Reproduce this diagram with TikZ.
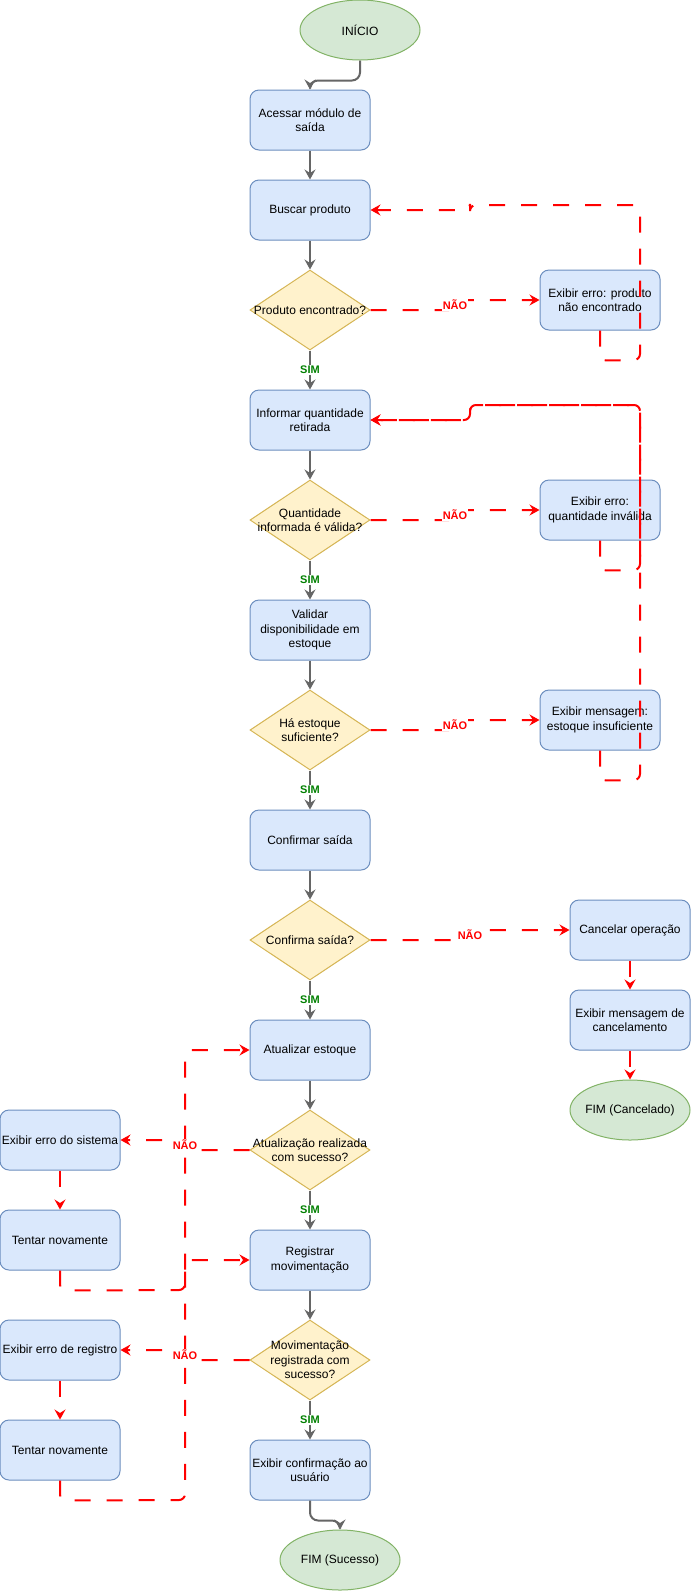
\documentclass[tikz,border=0pt]{standalone}
\usepackage{fontspec}
\setmainfont{Liberation Sans}
\usetikzlibrary{arrows.meta,shapes.geometric}
\definecolor{bfill}{HTML}{DAE8FC}
\definecolor{bdraw}{HTML}{6C8EBF}
\definecolor{yfill}{HTML}{FFF2CC}
\definecolor{ydraw}{HTML}{D6B656}
\definecolor{gfill}{HTML}{D5E8D4}
\definecolor{gdraw}{HTML}{82B366}
\definecolor{garrow}{HTML}{666666}
\definecolor{redzero}{HTML}{FF0000}
\definecolor{greenzero}{HTML}{008000}
\begin{document}
\begin{tikzpicture}[x=1pt,y=-1pt,
  font=\fontsize{12}{14.5}\selectfont,
  procbox/.style={draw=bdraw, fill=bfill, line width=1pt, rounded corners=9pt,
    minimum width=120pt, minimum height=60pt, inner sep=1pt, align=center},
  decbox/.style={draw=ydraw, fill=yfill, line width=1pt, diamond,
    minimum width=120pt, minimum height=80pt, inner sep=0pt},
  termbox/.style={draw=gdraw, fill=gfill, line width=1pt, ellipse,
    minimum width=120pt, minimum height=60pt, inner sep=0pt},
  txt/.style={align=center, inner sep=0pt},
  flow/.style={draw=garrow, line width=2pt, rounded corners=8pt,
    -{Stealth[length=10pt,width=11pt,inset=3.5pt]}},
  fail/.style={draw=redzero, line width=2pt, dash pattern=on 16pt off 16pt,
    rounded corners=6pt, -{Stealth[length=10pt,width=11pt,inset=3.5pt]}},
  simlab/.style={font=\fontsize{11}{13}\selectfont\bfseries, text=greenzero,
    fill=white, inner sep=1pt},
  naolab/.style={font=\fontsize{11}{13}\selectfont\bfseries, text=redzero,
    fill=white, inner sep=1pt},
]
\fill[white] (0,0) rectangle (691,1591);
\useasboundingbox (0,0) rectangle (691,1591);

% main column
\node[termbox] (n0) at (360,30) {};
\node[txt] (n0t) at (n0) {INÍCIO};
\node[procbox] (n1) at (310,120) {Acessar módulo de\\saída};
\node[procbox] (n2) at (310,210) {Buscar produto};
\node[decbox] (d1) at (310,310) {};
\node[txt] (d1t) at (d1) {Produto encontrado?};
\node[procbox] (e1) at (600,300) {Exibir erro: produto\\não encontrado};
\node[procbox] (n3) at (310,420) {Informar quantidade\\retirada};
\node[decbox] (d2) at (310,520) {};
\node[txt] (d2t) at (d2) {Quantidade\\informada é válida?};
\node[procbox] (e2) at (600,510) {Exibir erro:\\quantidade inválida};
\node[procbox] (n4) at (310,630) {Validar\\disponibilidade em\\estoque};
\node[decbox] (d3) at (310,730) {};
\node[txt] (d3t) at (d3) {Há estoque\\suficiente?};
\node[procbox] (e3) at (600,720) {Exibir mensagem:\\estoque insuficiente};
\node[procbox] (n5) at (310,840) {Confirmar saída};
\node[decbox] (d4) at (310,940) {};
\node[txt] (d4t) at (d4) {Confirma saída?};
\node[procbox] (c1) at (630,930) {Cancelar operação};
\node[procbox] (c2) at (630,1020) {Exibir mensagem de\\cancelamento};
\node[termbox] (c3) at (630,1110) {};
\node[txt] (c3t) at (c3) {FIM (Cancelado)};
\node[procbox] (n6) at (310,1050) {Atualizar estoque};
\node[decbox] (d5) at (310,1150) {};
\node[txt] (d5t) at (d5) {Atualização realizada\\com sucesso?};
\node[procbox] (f1) at (60,1140) {Exibir erro do sistema};
\node[procbox] (f2) at (60,1240) {Tentar novamente};
\node[procbox] (n7) at (310,1260) {Registrar\\movimentação};
\node[decbox] (d6) at (310,1360) {};
\node[txt] (d6t) at (d6) {Movimentação\\registrada com\\sucesso?};
\node[procbox] (g1) at (60,1350) {Exibir erro de registro};
\node[procbox] (g2) at (60,1450) {Tentar novamente};
\node[procbox] (n8) at (310,1470) {Exibir confirmação ao\\usuário};
\node[termbox] (n9) at (340,1560) {};
\node[txt] (n9t) at (n9) {FIM (Sucesso)};

% grey flow
\draw[flow] (n0.south) -- ++(0,20) -| (n1.north);
\draw[flow] (n1.south) -- (n2.north);
\draw[flow] (n2.south) -- (d1.north);
\draw[flow] (d1.south) -- node[simlab] (s1) {SIM} (n3.north);
\draw[flow] (n3.south) -- (d2.north);
\draw[flow] (d2.south) -- node[simlab] (s2) {SIM} (n4.north);
\draw[flow] (n4.south) -- (d3.north);
\draw[flow] (d3.south) -- node[simlab] (s3) {SIM} (n5.north);
\draw[flow] (n5.south) -- (d4.north);
\draw[flow] (d4.south) -- node[simlab] (s4) {SIM} (n6.north);
\draw[flow] (n6.south) -- (d5.north);
\draw[flow] (d5.south) -- node[simlab] (s5) {SIM} (n7.north);
\draw[flow] (n7.south) -- (d6.north);
\draw[flow] (d6.south) -- node[simlab] (s6) {SIM} (n8.north);
\draw[flow] (n8.south) -- ++(0,20) -| (n9.north);

% red failure paths
\draw[fail] (d1.east) -- (455,310) |- (e1.west);
\draw[fail] (d2.east) -- (455,520) |- (e2.west);
\draw[fail] (d3.east) -- (455,730) |- (e3.west);
\draw[fail] (d4.east) -- (470,940) |- (c1.west);
\draw[fail] (c1.south) -- (c2.north);
\draw[fail] (c2.south) -- (c3.north);
\draw[fail] (e1.south) -- ++(0,30) -- (640,360) -- (640,205) -- (470,205) |- (n2.east);
\draw[fail] (e2.south) -- ++(0,30) -- (640,570) -- (640,405) -- (470,405) |- (n3.east);
\draw[fail] (e3.south) -- ++(0,30) -- (640,780) -- (640,405) -- (470,405) |- (n3.east);
\draw[fail] (d5.west) -- (185,1150) |- (f1.east);
\draw[fail] (f1.south) -- (f2.north);
\draw[fail] (f2.south) -- ++(0,20) -- (185,1290) |- (n6.west);
\draw[fail] (d6.west) -- (185,1360) |- (g1.east);
\draw[fail] (g1.south) -- (g2.north);
\draw[fail] (g2.south) -- ++(0,20) -- (185,1500) |- (n7.west);

% NAO labels
\node[naolab] (l1) at (455,305) {NÃO};
\node[naolab] (l2) at (455,515) {NÃO};
\node[naolab] (l3) at (455,725) {NÃO};
\node[naolab] (l4) at (470,935) {NÃO};
\node[naolab] (l5) at (185,1145) {NÃO};
\node[naolab] (l6) at (185,1355) {NÃO};
\end{tikzpicture}
\end{document}
